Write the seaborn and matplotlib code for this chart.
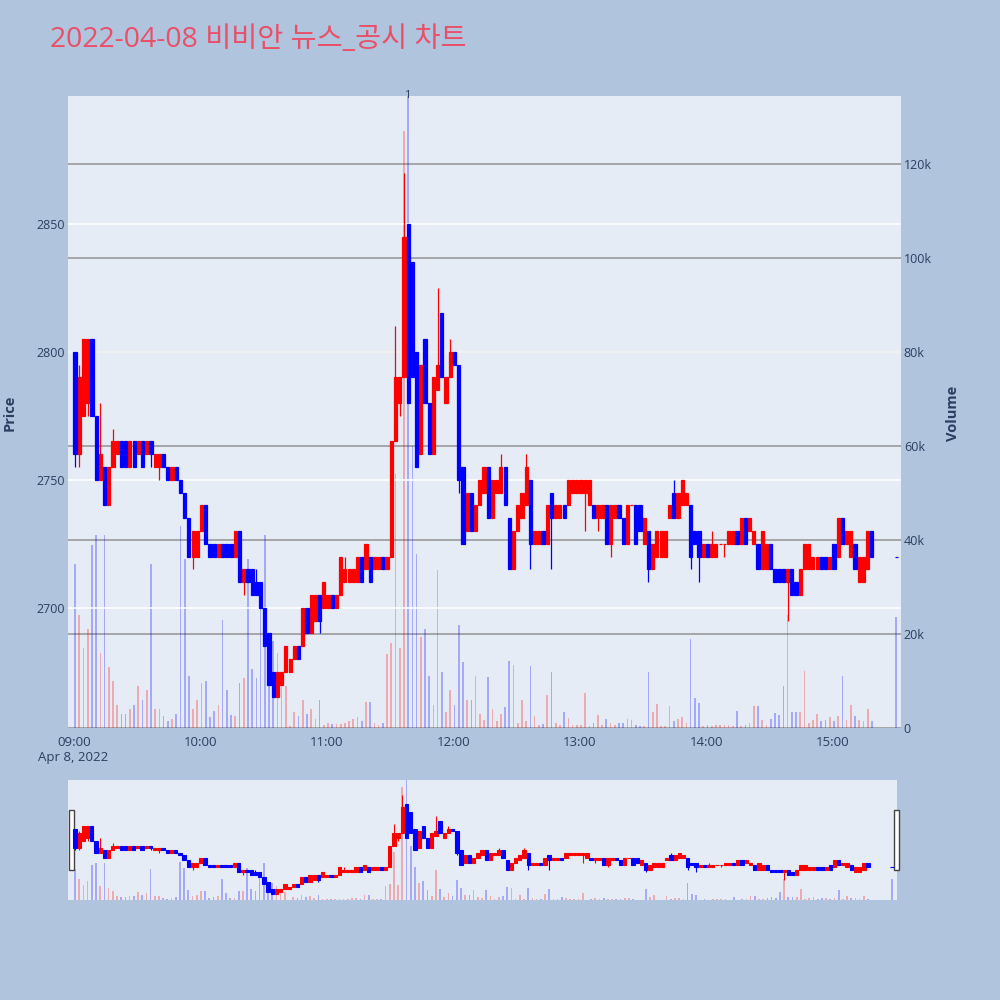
import pandas as pd
import numpy as np
import matplotlib
matplotlib.use('Agg')
import matplotlib.pyplot as plt
import seaborn as sns
from matplotlib.patches import Rectangle

title = '2022-04-08 비비안 뉴스_공시 차트'

# 2-minute candles from 09:00 to 15:18 (price in KRW)
open_ = [2800, 2760, 2775, 2780, 2805, 2775, 2750, 2755, 2740, 2755,
         2760, 2765, 2765, 2755, 2765, 2760, 2765, 2760, 2765, 2755,
         2755, 2760, 2755, 2750, 2755, 2750, 2745, 2735, 2720, 2720,
         2730, 2740, 2725, 2725, 2720, 2725, 2725, 2725, 2720, 2730,
         2710, 2715, 2715, 2710, 2710, 2700, 2690, 2675, 2665, 2670,
         2675, 2675, 2680, 2685, 2685, 2700, 2690, 2695, 2705, 2700,
         2700, 2705, 2700, 2705, 2710, 2710, 2710, 2710, 2720, 2715,
         2720, 2715, 2715, 2720, 2715, 2720, 2765, 2780, 2790, 2850,
         2835, 2800, 2760, 2805, 2780, 2760, 2785, 2815, 2780, 2790,
         2800, 2795, 2755, 2730, 2745, 2730, 2740, 2745, 2755, 2735,
         2745, 2745, 2755, 2735, 2715, 2730, 2735, 2740, 2750, 2725,
         2725, 2730, 2725, 2745, 2735, 2735, 2740, 2740, 2745, 2745,
         2745, 2745, 2740, 2740, 2735, 2735, 2740, 2725, 2735, 2740,
         2735, 2725, 2740, 2740, 2740, 2725, 2730, 2715, 2720, 2720,
         2720, 2735, 2745, 2735, 2740, 2740, 2740, 2730, 2730, 2720,
         2725, 2720, 2720, 2725, 2725, 2725, 2725, 2730, 2725, 2735,
         2730, 2725, 2725, 2715, 2715, 2725, 2715, 2715, 2715, 2710,
         2715, 2710, 2705, 2715, 2715, 2715, 2715, 2720, 2720, 2715,
         2725, 2720, 2735, 2725, 2720, 2725, 2710, 2710, 2715, 2730]

close = [2760, 2790, 2805, 2805, 2775, 2750, 2760, 2740, 2755, 2765,
         2765, 2755, 2755, 2765, 2755, 2765, 2755, 2765, 2760, 2760,
         2760, 2755, 2750, 2755, 2750, 2745, 2735, 2720, 2730, 2730,
         2740, 2725, 2720, 2720, 2725, 2720, 2720, 2720, 2730, 2710,
         2715, 2710, 2705, 2705, 2700, 2685, 2670, 2665, 2675, 2675,
         2685, 2680, 2685, 2680, 2700, 2690, 2705, 2705, 2695, 2710,
         2705, 2700, 2705, 2720, 2715, 2715, 2715, 2720, 2710, 2725,
         2710, 2720, 2720, 2715, 2720, 2765, 2790, 2790, 2845, 2780,
         2790, 2755, 2795, 2780, 2760, 2790, 2795, 2790, 2790, 2800,
         2795, 2750, 2725, 2745, 2730, 2740, 2750, 2755, 2735, 2750,
         2750, 2755, 2740, 2715, 2730, 2740, 2745, 2755, 2725, 2730,
         2730, 2725, 2740, 2735, 2740, 2740, 2735, 2750, 2750, 2750,
         2750, 2750, 2750, 2735, 2740, 2740, 2725, 2740, 2740, 2735,
         2725, 2740, 2740, 2725, 2730, 2735, 2715, 2725, 2730, 2730,
         2730, 2740, 2735, 2745, 2750, 2745, 2720, 2725, 2720, 2725,
         2720, 2725, 2725, 2725, 2725, 2730, 2730, 2725, 2735, 2725,
         2735, 2730, 2715, 2730, 2725, 2715, 2710, 2710, 2710, 2715,
         2705, 2705, 2715, 2725, 2725, 2720, 2720, 2715, 2715, 2720,
         2715, 2735, 2725, 2730, 2730, 2715, 2720, 2720, 2730, 2720]

# volume per candle, thousands of shares
volume_k = [35, 24, 17, 21, 39, 41, 16, 41, 13, 10,
            5, 3, 3, 4, 5, 9, 6, 8, 35, 4,
            4, 2.5, 1.5, 2, 3, 43, 36, 11, 4, 6,
            9.6, 10, 2.4, 3.7, 5, 23, 8, 2.7, 2.5, 9.6,
            10.6, 36, 12.5, 10.6, 27, 41, 18, 18.5, 16, 11,
            9, 0.5, 3.5, 2.5, 6, 3, 4, 2, 6, 0.6,
            1, 0.9, 0.9, 0.9, 1, 1.5, 2, 2.3, 1.5, 5.5,
            5.5, 1, 0.7, 1, 15.8, 18, 54, 17, 127, 140,
            60, 37, 19.4, 21, 11, 5, 33.7, 12, 3.5, 8,
            5, 22, 14, 6, 6, 11, 3, 1.7, 10.8, 4,
            1.4, 3, 4.5, 14.3, 13.4, 1, 6, 1.4, 13.2, 2.5,
            0.7, 0.8, 7, 12, 1, 0.7, 3.3, 2.2, 0.7, 0.6,
            0.6, 7.5, 0.5, 1, 2.8, 0.6, 2, 1, 0.6, 1.1,
            1, 2, 1.8, 0.6, 0.4, 0.5, 12, 3.3, 5.2, 0.5,
            0.5, 4.7, 1.4, 2, 2.3, 1.1, 18.9, 6.3, 5.4, 0.4,
            0.6, 0.4, 0.7, 0.6, 0.6, 0.7, 0.5, 3.6, 0.5, 0.6,
            1, 4.7, 4.7, 1.6, 0.7, 2, 3.1, 2.8, 9, 24,
            3.5, 3.5, 3.5, 12.2, 1, 1.7, 3, 1.4, 1.7, 2.3,
            1.4, 2.5, 11, 1.6, 5, 2.5, 1.7, 1.4, 4, 1.4]

# visible wicks (candle index, price)
hi_idx = [1, 6, 9, 43, 64, 76, 78, 86, 89, 101, 107, 142, 151]
hi_val = [2795, 2780, 2770, 2715, 2720, 2810, 2870, 2825, 2805, 2760, 2760, 2750, 2730]
lo_idx = [0, 1, 3, 18, 20, 28, 40, 58, 77, 91, 108, 113, 121, 124, 127, 136, 146, 148, 154, 169]
lo_val = [2755, 2755, 2775, 2755, 2750, 2715, 2705, 2690, 2775, 2745, 2715, 2715, 2730, 2730,
          2720, 2710, 2715, 2710, 2720, 2695]

# closing auction
auction_time = '15:30'
auction_price = 2720
auction_volume_k = 23.7

news_time = '11:38'
news_label = '1'

time_ticks = ['09:00', '10:00', '11:00', '12:00', '13:00', '14:00', '15:00']
price_ticks = [2700, 2750, 2800, 2850]
vol_ticks = [0, 20000, 40000, 60000, 80000, 100000, 120000]
vol_labels = ['0', '20k', '40k', '60k', '80k', '100k', '120k']

paper = '#B0C4DE'
plot_bg = '#E5ECF6'
font_col = '#2A3F5F'
up_col = '#FF0000'
down_col = '#0000FF'

sns.set_style('white')
plt.rcParams['font.family'] = ['Open Sans', 'Noto Sans CJK KR', 'DejaVu Sans']

day = '2022-04-08 '
start = pd.Timestamp(day + '09:00')
times = pd.date_range(start, periods=len(close), freq='2min')
df = pd.DataFrame({'time': times, 'open': open_, 'close': close,
                   'volume': np.array(volume_k) * 1000})
df['dir'] = np.where(df['close'] >= df['open'], 'up', 'down')
df['m'] = (df['time'] - start).dt.total_seconds() / 60 + 0.5
auc = pd.DataFrame({'time': [pd.Timestamp(day + auction_time)], 'open': [auction_price],
                    'close': [auction_price], 'volume': [auction_volume_k * 1000], 'dir': ['down']})
auc['m'] = (auc['time'] - start).dt.total_seconds() / 60
df = pd.concat([df, auc], ignore_index=True)

news_m = (pd.Timestamp(day + news_time) - start).total_seconds() / 60
tick_m = [(pd.Timestamp(day + t) - start).total_seconds() / 60 for t in time_ticks]

colors = {'up': up_col, 'down': down_col}
xlim = (-2.85, 392.3)
price_lim = (2653, 2900)
vol_lim = (0, 134500)


def draw(axp, axv, lw, bar_w, body_w):
    sns.barplot(data=df, x='m', y='volume', hue='dir', palette=colors, hue_order=['up', 'down'],
                native_scale=True, dodge=False, width=bar_w, saturation=1, alpha=0.28,
                errorbar=None, legend=False, linewidth=0, ax=axv)
    for d, col in colors.items():
        s = df[df['dir'] == d]
        axp.bar(s['m'], s['close'] - s['open'], bottom=s['open'], width=body_w,
                color=col, edgecolor=col, linewidth=lw, zorder=3)
    for i, v in zip(hi_idx, hi_val):
        r = df.loc[i]
        axp.vlines(r['m'], max(r['open'], r['close']), v, color=colors[r['dir']], lw=lw, zorder=3)
    for i, v in zip(lo_idx, lo_val):
        r = df.loc[i]
        axp.vlines(r['m'], v, min(r['open'], r['close']), color=colors[r['dir']], lw=lw, zorder=3)
    axp.set_zorder(axv.get_zorder() + 1)
    axp.patch.set_visible(False)
    axv.patch.set_visible(True)
    axv.patch.set_facecolor(plot_bg)
    axp.set_xlim(*xlim)
    axp.set_ylim(*price_lim)
    axv.set_ylim(*vol_lim)
    axv.set_xlabel('')
    axv.set_ylabel('')
    for a in (axp, axv):
        for sp in a.spines.values():
            sp.set_visible(False)


fig = plt.figure(figsize=(10, 10), dpi=100, facecolor=paper)

ax = fig.add_axes([0.068, 0.272, 0.833, 0.632])
ax2 = ax.twinx()
draw(ax, ax2, 0.9, 0.4, 1.5)

ax.set_xticks(tick_m)
ax.set_xticklabels(time_ticks)
ax.set_yticks(price_ticks)
ax.tick_params(axis='both', length=0, colors=font_col, labelsize=9)
ax.tick_params(axis='x', pad=6, labelsize=9.5)
ax.tick_params(axis='y', pad=2)
ax.grid(axis='y', color='white', linewidth=1.2)
ax.grid(axis='x', visible=False)
ax2.set_yticks(vol_ticks)
ax2.set_yticklabels(vol_labels)
ax2.tick_params(axis='y', length=0, colors=font_col, labelsize=9, pad=2)
ax2.grid(axis='y', color='#9A9A9A', linewidth=1.2)
ax2.grid(axis='x', visible=False)

ax.annotate(news_label, xy=(news_m, 1.0), xycoords=('data', 'axes fraction'),
            ha='center', va='center', fontsize=8, color=font_col)

# range slider
sl = fig.add_axes([0.068, 0.1, 0.829, 0.12])
sl2 = sl.twinx()
draw(sl, sl2, 0.8, 0.4, 1.6)
for a in (sl, sl2):
    a.set_xticks([])
    a.set_yticks([])
    a.grid(False)
for hx in (0.069, 0.894):
    fig.add_artist(Rectangle((hx, 0.13), 0.0045, 0.06, transform=fig.transFigure,
                             facecolor='white', edgecolor='#444444', lw=1))

fig.text(0.05, 0.96, title, fontsize=20.4, color='#EA4F68', ha='left', va='center')
fig.text(0.073, 0.242, 'Apr 8, 2022', fontsize=9.5, color=font_col, ha='center', va='center')
fig.text(0.010, 0.587, 'Price', rotation=90, fontsize=10.5, fontweight='bold',
         color=font_col, ha='center', va='center')
fig.text(0.953, 0.587, 'Volume', rotation=90, fontsize=10.5, fontweight='bold',
         color=font_col, ha='center', va='center')

fig.savefig('out.png', dpi=100, facecolor=paper)
